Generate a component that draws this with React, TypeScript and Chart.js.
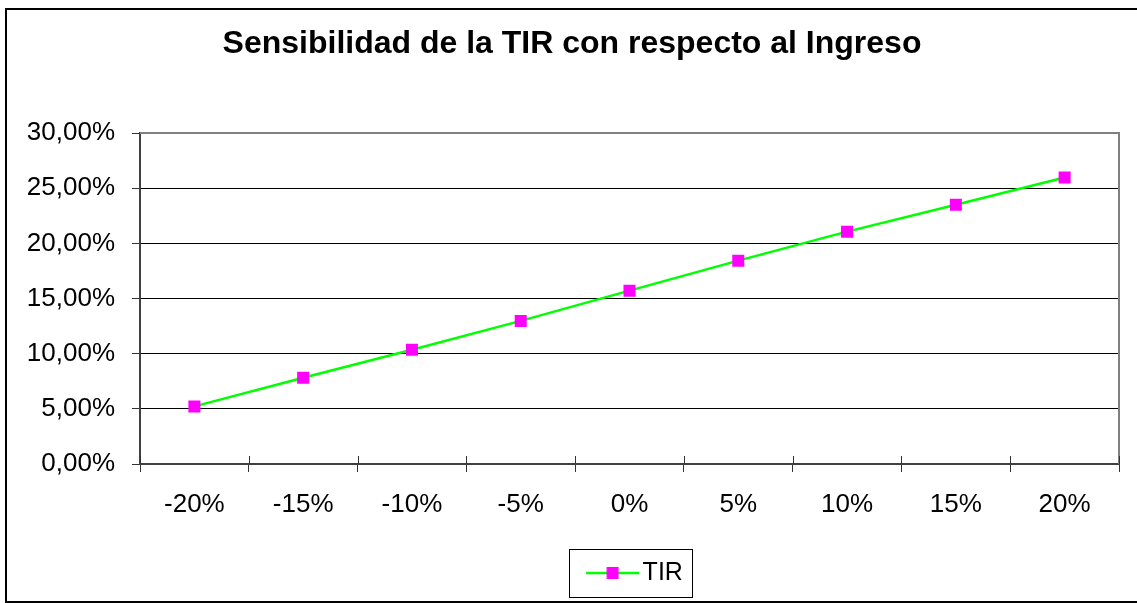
import React, { useEffect, useRef } from "react";
import { Chart, registerables } from "chart.js";

Chart.register(...registerables);

const categories = ["-20%", "-15%", "-10%", "-5%", "0%", "5%", "10%", "15%", "20%"];
const tirValues = [5.22, 7.82, 10.36, 12.97, 15.71, 18.43, 21.06, 23.5, 25.96];
const seriesName = "TIR";
const chartTitle = "Sensibilidad de la TIR con respecto al Ingreso";
const yMin = 0;
const yMax = 30;
const yStep = 5;

const FONT = "'Liberation Sans', Arial, sans-serif";
const GREEN = "#00FF00";
const MAGENTA = "#FF00FF";

function makeLegendSymbol(): HTMLCanvasElement {
  const c = document.createElement("canvas");
  c.width = 72;
  c.height = 14;
  const ctx = c.getContext("2d")!;
  ctx.strokeStyle = GREEN;
  ctx.lineWidth = 2.5;
  ctx.beginPath();
  ctx.moveTo(19, 7);
  ctx.lineTo(72, 7);
  ctx.stroke();
  ctx.fillStyle = MAGENTA;
  ctx.fillRect(45.5 - 6, 1, 12, 12);
  return c;
}

const decorPlugin = {
  id: "decor",
  beforeDatasetsDraw(chart: any) {
    const { ctx, chartArea } = chart;
    const { left, right, top, bottom } = chartArea;
    ctx.save();
    // plot border (top & right)
    ctx.strokeStyle = "#808080";
    ctx.lineWidth = 2;
    ctx.beginPath();
    ctx.moveTo(left, top);
    ctx.lineTo(right, top);
    ctx.lineTo(right, bottom);
    ctx.stroke();
    // cross tick marks on x axis (inner part)
    const n = categories.length;
    const w = (right - left) / n;
    ctx.strokeStyle = "#333333";
    ctx.lineWidth = 1;
    ctx.beginPath();
    for (let i = 0; i <= n; i++) {
      const x = Math.round(left + i * w) + 0.5;
      ctx.moveTo(x, bottom - 8);
      ctx.lineTo(x, bottom);
    }
    ctx.stroke();
    ctx.restore();
  },
  afterDraw(chart: any) {
    const legend = chart.legend;
    if (!legend || !legend.legendHitBoxes || !legend.legendHitBoxes[0]) return;
    const hb = legend.legendHitBoxes[0];
    const ctx = chart.ctx;
    ctx.save();
    ctx.strokeStyle = "#000";
    ctx.lineWidth = 1;
    const x0 = Math.round(hb.left - 7) + 0.5;
    const x1 = Math.round(hb.left + hb.width + 9) + 0.5;
    const y0 = Math.round(hb.top - 11.5) + 0.5;
    const y1 = Math.round(hb.top + hb.height + 11.5) + 0.5;
    ctx.strokeRect(x0, y0, x1 - x0, y1 - y0);
    ctx.restore();
  },
};

export default function App() {
  const ref = useRef<HTMLCanvasElement>(null);

  useEffect(() => {
    if (!ref.current) return;
    Chart.defaults.font.family = FONT;
    const symbol = makeLegendSymbol();
    const chart = new Chart(ref.current, {
      type: "line",
      data: {
        labels: categories,
        datasets: [
          {
            label: seriesName,
            data: tirValues,
            borderColor: GREEN,
            borderWidth: 2.5,
            pointStyle: "rect",
            pointRadius: 8.5,
            pointBackgroundColor: MAGENTA,
            pointBorderColor: MAGENTA,
            pointBorderWidth: 0,
            tension: 0,
            yAxisID: "y",
          },
        ],
      },
      options: {
        animation: false,
        responsive: false,
        devicePixelRatio: 1,
        layout: { padding: { left: 7, right: 0, top: 0, bottom: 7.5 } },
        plugins: {
          title: {
            display: true,
            text: chartTitle,
            color: "#000",
            font: { family: FONT, size: 32, weight: "bold" },
            padding: { top: 25, bottom: 69.6 },
          },
          legend: {
            display: true,
            position: "bottom",
            fullSize: false,
            labels: {
              color: "#000",
              font: { family: FONT, size: 25 },
              usePointStyle: true,
              pointStyle: symbol as any,
              pointStyleWidth: 54,
              boxHeight: 25,
              padding: 10,
            },
          },
          tooltip: { enabled: false },
        },
        scales: {
          x: {
            type: "category",
            offset: true,
            grid: {
              display: true,
              drawOnChartArea: false,
              drawTicks: true,
              tickLength: 8,
              offset: true,
              color: "#333333",
              lineWidth: 1,
            },
            border: { display: true, color: "#404040", width: 2 },
            ticks: {
              color: "#000",
              font: { family: FONT, size: 26 },
              padding: 17,
              maxRotation: 0,
              autoSkip: false,
            },
            afterFit: (s: any) => {
              s.height = 86.5;
            },
          },
          y: {
            type: "linear",
            position: "left",
            min: yMin,
            max: yMax,
            grid: {
              color: "#000",
              lineWidth: 1,
              drawTicks: true,
              tickLength: 8,
              tickColor: "#333333",
            },
            border: { display: true, color: "#404040", width: 2 },
            ticks: {
              stepSize: yStep,
              color: "#000",
              font: { family: FONT, size: 26 },
              padding: 17,
              callback: (v: any) => Number(v).toFixed(2).replace(".", ",") + "%",
            },
            afterFit: (s: any) => {
              s.width = 133;
            },
          },
          yR: {
            type: "linear",
            position: "right",
            display: true,
            grid: { display: false, drawTicks: false },
            border: { display: false },
            ticks: { display: false },
            afterFit: (s: any) => {
              s.width = 18;
            },
          },
        },
      },
      plugins: [decorPlugin],
    });
    return () => chart.destroy();
  }, []);

  return (
    <div
      style={{
        position: "fixed",
        left: 0,
        top: 0,
        width: 1137,
        height: 603,
        overflow: "hidden",
        background: "#fff",
      }}
    >
      <canvas
        ref={ref}
        width={1137}
        height={603}
        style={{ display: "block", width: 1137, height: 603 }}
      />
      <div
        style={{
          position: "absolute",
          left: 5,
          top: 8,
          width: 1200,
          height: 595,
          border: "2px solid #000",
          boxSizing: "border-box",
          pointerEvents: "none",
        }}
      />
    </div>
  );
}
